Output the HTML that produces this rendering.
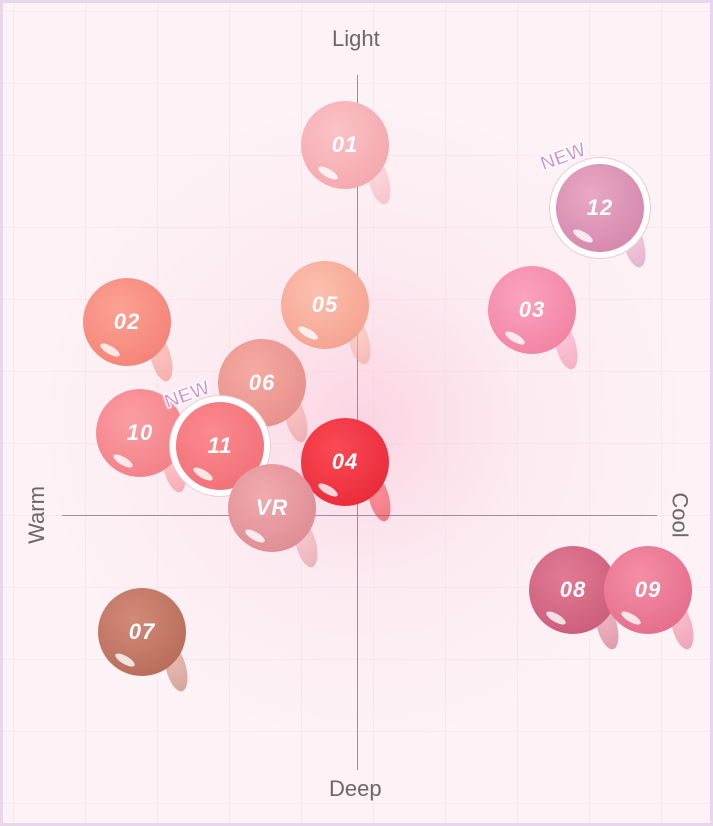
<!DOCTYPE html><html><head><style>
body{margin:0;width:713px;height:826px;overflow:hidden;font-family:"Liberation Sans",sans-serif}
#bg{position:absolute;z-index:-2;left:0;top:0;width:713px;height:826px;box-sizing:border-box;border:3px solid #ead6ec;
background:radial-gradient(circle at 360px 420px,rgba(250,200,218,.7) 0,rgba(252,225,235,.4) 160px,rgba(253,242,246,0) 330px),
linear-gradient(rgba(240,210,220,.35) 1px,transparent 1px) 0 8px/100% 72px,
linear-gradient(90deg,rgba(240,210,220,.35) 1px,transparent 1px) 10px 0/72px 100%,#fdf2f6}
.ax{position:absolute;z-index:-2;background:#9a8f94}
.lbl{position:absolute;color:#6e6668;font-size:22px}
.s{position:absolute;width:88px;height:88px;border-radius:50%;color:#fff;font-style:italic;font-size:22px;font-weight:bold;display:flex;align-items:center;justify-content:center;letter-spacing:1px}
.s::before{content:"";position:absolute;right:0px;bottom:-16px;width:20px;height:48px;border-radius:50%;background:inherit;opacity:.55;transform:rotate(-15deg);z-index:-1}
.s::after{content:"";position:absolute;left:16px;bottom:12px;width:22px;height:8px;border-radius:50%;background:rgba(255,255,255,.8);transform:rotate(30deg)}
.w{box-shadow:0 0 0 6px #fff,0 0 0 7px #f0c8d6}
.new{position:absolute;color:#d58cd0;font-weight:bold;font-size:20px;transform:rotate(-20deg);-webkit-text-stroke:1px #fff;text-shadow:0 0 3px #fff,0 0 3px #fff}
</style></head><body><div id="bg"></div>
<div class="ax" style="left:357px;top:75px;width:1px;height:695px"></div>
<div class="ax" style="left:62px;top:515px;width:595px;height:1px"></div>
<div class="lbl" style="left:332px;top:26px">Light</div>
<div class="lbl" style="left:329px;top:776px">Deep</div>
<div class="lbl" style="left:8px;top:502px;transform:rotate(-90deg)">Warm</div>
<div class="lbl" style="left:657px;top:502px;transform:rotate(90deg)">Cool</div>
<div class="s" style="left:301px;top:101px;background:radial-gradient(circle at 40% 35%,#fbc3c6,#f2a0a8)">01</div>
<div class="s w" style="left:556px;top:164px;background:radial-gradient(circle at 40% 35%,#e9a8c4,#cf7fa8)">12</div>
<div class="new" style="left:540px;top:146px">NEW</div>
<div class="s" style="left:83px;top:278px;background:radial-gradient(circle at 40% 35%,#fca293,#f27b70)">02</div>
<div class="s" style="left:281px;top:261px;background:radial-gradient(circle at 40% 35%,#fcc0ae,#f39b8a)">05</div>
<div class="s" style="left:488px;top:266px;background:radial-gradient(circle at 40% 35%,#fba3c0,#f07a9d)">03</div>
<div class="s" style="left:218px;top:339px;background:radial-gradient(circle at 40% 35%,#f6aaa2,#e38a84)">06</div>
<div class="s" style="left:96px;top:389px;background:radial-gradient(circle at 40% 35%,#fb9ea3,#f07880)">10</div>
<div class="s w" style="left:176px;top:402px;background:radial-gradient(circle at 40% 35%,#fb8a8e,#ef6a72)">11</div>
<div class="new" style="left:164px;top:384px">NEW</div>
<div class="s" style="left:301px;top:418px;background:radial-gradient(circle at 40% 35%,#fb4a55,#e52332)">04</div>
<div class="s" style="left:228px;top:464px;background:radial-gradient(circle at 40% 35%,#f1aaaf,#d9858c)">VR</div>
<div class="s" style="left:529px;top:546px;background:radial-gradient(circle at 40% 35%,#e27a95,#c55674)">08</div>
<div class="s" style="left:604px;top:546px;background:radial-gradient(circle at 40% 35%,#f58ea6,#e06585)">09</div>
<div class="s" style="left:98px;top:588px;background:radial-gradient(circle at 40% 35%,#d28a78,#b06552)">07</div>
</body></html>
